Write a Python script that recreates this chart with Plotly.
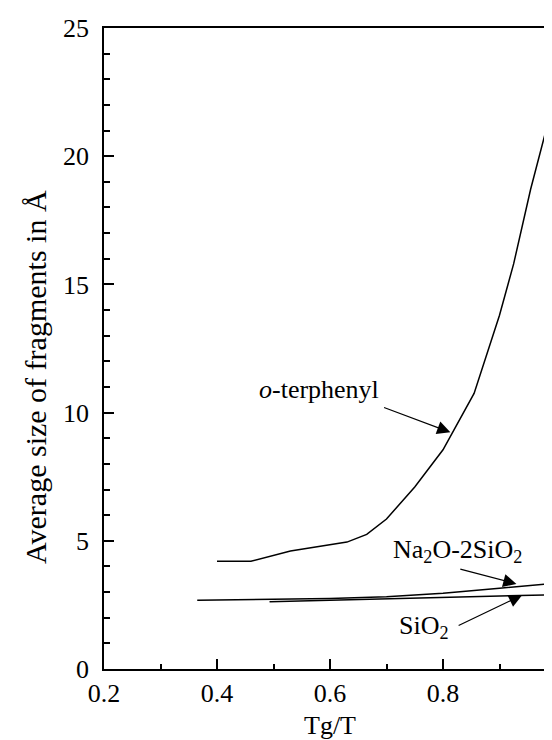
import plotly.graph_objects as go

# Data
otp_x = [0.40, 0.46, 0.53, 0.63, 0.665, 0.70, 0.75, 0.80, 0.855, 0.90, 0.925, 0.955, 1.0]
otp_y = [4.2, 4.2, 4.6, 4.95, 5.25, 5.85, 7.1, 8.55, 10.75, 13.8, 15.8, 18.7, 22.5]

na_x = [0.365, 0.5, 0.6, 0.7, 0.8, 0.9, 1.0]
na_y = [2.68, 2.71, 2.75, 2.82, 2.95, 3.15, 3.35]

si_x = [0.493, 0.6, 0.7, 0.8, 0.9, 1.0]
si_y = [2.62, 2.68, 2.74, 2.80, 2.86, 2.90]

x_ticks = [0.2, 0.4, 0.6, 0.8, 1.0]
x_ticktext = ["0.2", "0.4", "0.6", "0.8", "1"]
y_ticks = [0, 5, 10, 15, 20, 25]

FONT = "Liberation Serif, Times New Roman, Times, serif"

fig = go.Figure()
for xs, ys in [(otp_x, otp_y), (na_x, na_y), (si_x, si_y)]:
    fig.add_trace(go.Scatter(x=xs, y=ys, mode="lines",
                             line=dict(color="black", width=1.5),
                             showlegend=False, hoverinfo="skip"))

axis_common = dict(
    showgrid=False, zeroline=False, showline=True, linecolor="black",
    linewidth=1.5, mirror=True, ticks="inside", tickcolor="black",
    tickwidth=1.5, ticklen=10, ticklabeloverflow="allow", automargin=False,
    tickfont=dict(family=FONT, size=26, color="black"),
)

fig.update_xaxes(range=[0.2, 1.0], tickvals=x_ticks, ticktext=x_ticktext,
                 minor=dict(dtick=0.1, ticks="inside", ticklen=5, tickwidth=1.5, tickcolor="black"),
                 **axis_common)
fig.update_yaxes(range=[0, 25], tickvals=y_ticks, ticklabelstandoff=8,
                 minor=dict(dtick=1, ticks="inside", ticklen=6, tickwidth=1.5, tickcolor="black"),
                 **axis_common)

ann_font = dict(family=FONT, size=26, color="black")
annotations = [
    # axis titles
    dict(text="Average size of fragments in Å", xref="paper", yref="paper",
         x=-0.15, y=0.456, textangle=-90, showarrow=False,
         font=dict(family=FONT, size=30, color="black"),
         xanchor="center", yanchor="middle"),
    dict(text="Tg/T", xref="paper", yref="paper", x=0.5, y=-0.088,
         showarrow=False, font=ann_font, xanchor="center", yanchor="middle"),
    # curve labels
    dict(text="<i>o</i>-terphenyl", x=0.581, y=10.89, showarrow=False,
         font=ann_font, xanchor="center", yanchor="middle"),
    dict(text="Na<sub>2</sub>O-2SiO<sub>2</sub>", x=0.825, y=4.6, showarrow=False,
         font=ann_font, xanchor="center", yanchor="middle"),
    dict(text="SiO<sub>2</sub>", x=0.767, y=1.65, showarrow=False,
         font=ann_font, xanchor="center", yanchor="middle"),
]
# arrows: (tip_x, tip_y, tail_x, tail_y)
arrows = [
    (0.813, 9.23, 0.693, 10.22),
    (0.930, 3.32, 0.828, 3.91),
    (0.940, 2.88, 0.825, 1.67),
]
for tx, ty, sx, sy in arrows:
    annotations.append(dict(x=tx, y=ty, ax=sx, ay=sy, axref="x", ayref="y",
                            xref="x", yref="y", text="", showarrow=True,
                            arrowhead=2, arrowsize=2.2, arrowwidth=1.2,
                            arrowcolor="black", standoff=0, startstandoff=0))

fig.update_layout(
    width=552, height=740,
    margin=dict(l=96, r=4, t=20, b=79, autoexpand=False),
    plot_bgcolor="white", paper_bgcolor="white",
    annotations=annotations,
    font=dict(family=FONT, color="black"),
)

fig.write_html("out.html")
